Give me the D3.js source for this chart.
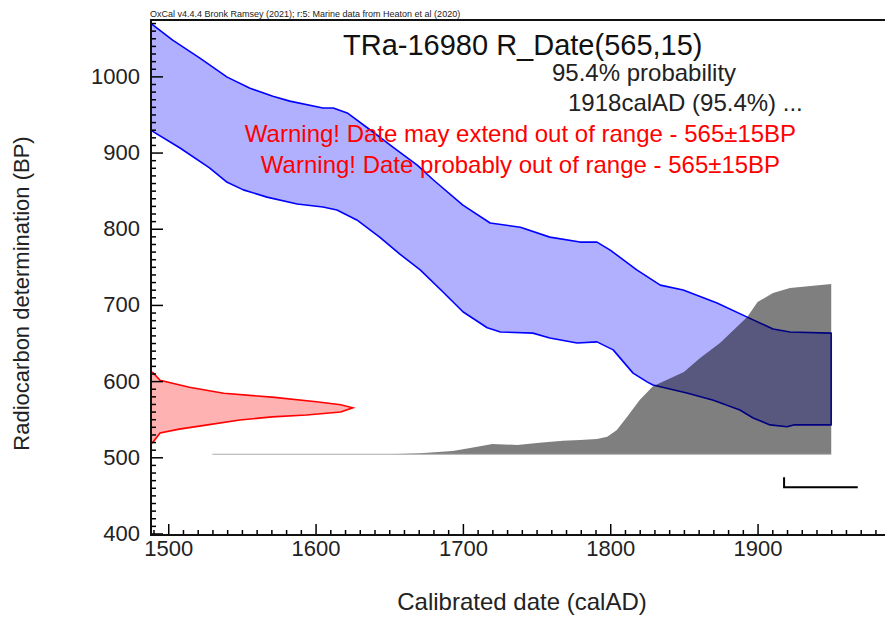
<!DOCTYPE html>
<html>
<head>
<meta charset="utf-8">
<script src="https://cdn.jsdelivr.net/npm/d3@7"></script>
<style>
  html, body { margin: 0; padding: 0; background: #fff; }
  svg { display: block; font-family: "Liberation Sans", Arial, sans-serif; }
</style>
</head>
<body>
<svg id="chart" width="885" height="617"></svg>
<script>
// Marine calibration curve, 2-sigma envelope: [calAD, BP]
const curveUpper = [
  [1488, 1070], [1503, 1047.5], [1521.5, 1024], [1540, 999], [1555.5, 984.5],
  [1571, 974], [1582.5, 967.5], [1605, 958.5], [1612, 958.5], [1621.5, 952],
  [1639, 927], [1652.5, 907], [1669, 883.5], [1680, 864], [1700, 831],
  [1718.5, 807.5], [1739, 802], [1759, 789], [1779.5, 782.5], [1791, 782.5],
  [1800, 772], [1818, 746], [1834, 726], [1849.5, 719.5], [1872.5, 702.5],
  [1893, 684], [1910.5, 668.5], [1922, 664.5], [1950, 663]
];
const curveLower = [
  [1488, 929.5], [1508, 906], [1528, 880], [1540, 861], [1551, 851],
  [1567, 841.5], [1587.5, 832.5], [1605, 828.5], [1614.5, 824.5], [1628, 811.5],
  [1643.5, 789], [1657, 767], [1671, 746], [1686.5, 717], [1700, 691],
  [1716.5, 670], [1725.5, 664.5], [1747.5, 663], [1759, 656.5], [1777.5, 650],
  [1791, 651.5], [1802, 641], [1815.5, 610.5], [1825, 599], [1829, 595],
  [1852, 584.5], [1870, 575], [1888, 562], [1897, 551.5], [1908.5, 542.5],
  [1920, 540], [1924.5, 542.5], [1950, 542.5]
];

// Radiocarbon measurement 565 ± 15 BP, relative probability by BP
const measBP   = [612, 611, 601, 592, 584, 579, 573, 569, 565, 559.5, 555.5, 553, 549, 542.5, 537, 532, 520, 518];
const measProb = [0, 0.01, 0.045, 0.19, 0.36, 0.60, 0.82, 0.94, 1.0, 0.94, 0.77, 0.60, 0.44, 0.28, 0.14, 0.045, 0.01, 0];

// Calibrated distribution, relative probability by calAD
const calYear = [1530, 1650, 1671, 1693, 1705, 1720, 1737, 1752, 1768, 1779.5, 1791,
                 1798, 1804.5, 1811.5, 1820, 1829, 1850, 1861, 1874.5, 1893, 1900,
                 1910.5, 1922, 1936, 1950];
const calProb = [0, 0, 0.006, 0.019, 0.037, 0.06, 0.055, 0.068, 0.08, 0.084, 0.09,
                 0.103, 0.143, 0.22, 0.319, 0.40, 0.483, 0.565, 0.654, 0.806, 0.894,
                 0.947, 0.977, 0.988, 1.0];

// 95.4% range
const range954 = [1918, 1968];

// Axis ticks
const xMajor = [1500, 1600, 1700, 1800, 1900];
const yMajor = [400, 500, 600, 700, 800, 900, 1000];

// Text
const header = "OxCal v4.4.4 Bronk Ramsey (2021); r:5: Marine data from Heaton et al (2020)";
const title = "TRa-16980 R_Date(565,15)";
const probLines = ["95.4% probability", "1918calAD (95.4%) ..."];
const warnings = [
  "Warning! Date may extend out of range - 565\u00b115BP",
  "Warning! Date probably out of range - 565\u00b115BP"
];

const svg = d3.select("#chart");
const L = 151, R = 885, T = 20, B = 535;

const x = d3.scaleLinear().domain([1488.3, 1986.5]).range([L, R]);
const y = d3.scaleLinear().domain([398, 1074]).range([B, T]);

svg.append("clipPath").attr("id", "plot")
  .append("rect").attr("x", L).attr("y", T).attr("width", R - L).attr("height", B - T);
const g = svg.append("g").attr("clip-path", "url(#plot)");

// calibration envelope
const band = curveUpper.concat(curveLower.slice().reverse());
g.append("path")
  .attr("d", d3.line().x(d => x(d[0])).y(d => y(d[1]))(band) + "Z")
  .attr("fill", "rgba(0,0,255,0.31)")
  .attr("stroke", "#0000ff")
  .attr("stroke-width", 1.6)
  .attr("stroke-linejoin", "round");

// calibrated distribution (drawn over the envelope)
const yd = d3.scaleLinear().domain([0, 1]).range([y(504), y(727.4)]);
const calData = calYear.map((v, i) => [v, calProb[i]]);
const calArea = calData.concat([[calYear[calYear.length - 1], 0]]);
g.append("path")
  .attr("d", d3.area().x(d => x(d[0])).y0(yd(0)).y1(d => yd(d[1]))(calArea))
  .attr("fill", "rgba(0,0,0,0.5)");
g.append("line")
  .attr("x1", x(calYear[0])).attr("x2", x(calYear[calYear.length - 1]))
  .attr("y1", yd(0)).attr("y2", yd(0))
  .attr("stroke", "#aaa").attr("stroke-width", 1);

// measurement distribution on the BP axis
const xm = d3.scaleLinear().domain([0, 1]).range([x(1488.3), x(1625.3)]);
const measData = measBP.map((v, i) => [v, measProb[i]]);
g.append("path")
  .attr("d", d3.area().y(d => y(d[0])).x0(xm(0)).x1(d => xm(d[1]))(measData))
  .attr("fill", "rgba(255,0,0,0.3)");
g.append("path")
  .attr("d", d3.line().x(d => xm(d[1])).y(d => y(d[0]))(measData))
  .attr("fill", "none").attr("stroke", "#ff0000").attr("stroke-width", 1.6);

// 95.4% range bar
const barY = yd(0) + 33;
svg.append("path")
  .attr("d", `M${x(range954[0])},${barY - 10}V${barY}H${x(range954[1])}`)
  .attr("fill", "none").attr("stroke", "#000").attr("stroke-width", 2);

// axes
const tickFont = 22;
const yAxis = svg.append("g").attr("transform", `translate(${L},0)`)
  .call(d3.axisLeft(y).tickValues(yMajor).tickSize(-12).tickPadding(11).tickFormat(d3.format("d")));
const yMinor = svg.append("g").attr("transform", `translate(${L},0)`)
  .call(d3.axisLeft(y).tickValues(d3.range(400, 1071, 10).filter(v => v % 100)).tickSize(-5).tickFormat(""));
const xAxis = svg.append("g").attr("transform", `translate(0,${B})`)
  .call(d3.axisBottom(x).tickValues(xMajor).tickSize(-11).tickPadding(5).tickFormat(d3.format("d")));
const xMinor = svg.append("g").attr("transform", `translate(0,${B})`)
  .call(d3.axisBottom(x).tickValues(d3.range(1490, 1990, 10).filter(v => v % 100)).tickSize(-5).tickFormat(""));
[yAxis, yMinor, xAxis, xMinor].forEach(a => {
  a.select(".domain").remove();
  a.selectAll(".tick line").attr("stroke", "#000").attr("stroke-width", 1.5);
  a.selectAll("text").attr("font-size", tickFont).attr("fill", "#222")
    .attr("font-family", "Liberation Sans, Arial, sans-serif");
});

// frame
svg.append("path")
  .attr("d", `M${R},${T}H${L}V${B}H${R}`)
  .attr("fill", "none").attr("stroke", "#111").attr("stroke-width", 2);

// axis titles
svg.append("text")
  .attr("transform", `translate(29,${(T + B) / 2 + 16}) rotate(-90)`)
  .attr("text-anchor", "middle").attr("font-size", 22).attr("fill", "#222")
  .text("Radiocarbon determination (BP)");
svg.append("text")
  .attr("x", 522).attr("y", 610)
  .attr("text-anchor", "middle").attr("font-size", 24).attr("fill", "#222")
  .text("Calibrated date (calAD)");

// header and annotations
svg.append("text").attr("x", 150).attr("y", 17).attr("font-size", 9).attr("fill", "#222").text(header);
svg.append("text").attr("x", 343).attr("y", 55).attr("font-size", 29).attr("fill", "#111").text(title);
svg.append("text").attr("x", 552).attr("y", 81).attr("font-size", 24).attr("fill", "#222").text(probLines[0]);
svg.append("text").attr("x", 568).attr("y", 111).attr("font-size", 24).attr("fill", "#222").text(probLines[1]);
warnings.forEach((w, i) => {
  svg.append("text").attr("x", 520.5).attr("y", 142 + i * 31)
    .attr("text-anchor", "middle").attr("font-size", 24).attr("fill", "#ff0000").text(w);
});
</script>
</body>
</html>
